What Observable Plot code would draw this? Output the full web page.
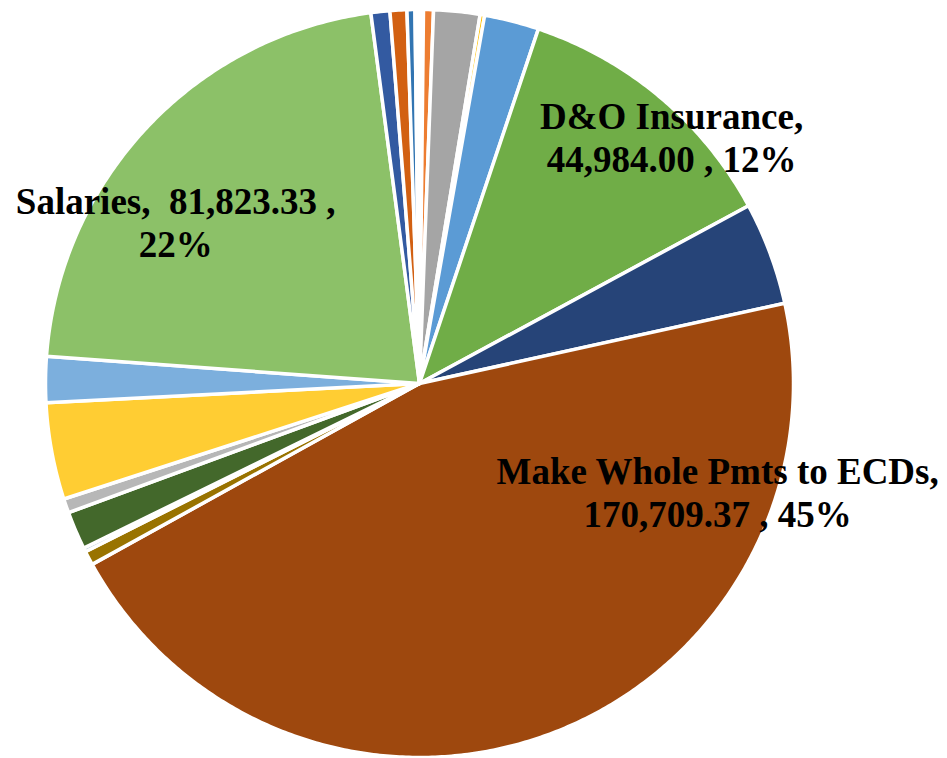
<!DOCTYPE html>
<html>
<head>
<meta charset="utf-8">
<script src="https://cdn.jsdelivr.net/npm/d3@7"></script>
<script src="https://cdn.jsdelivr.net/npm/@observablehq/plot@0.6"></script>
<style>
  html, body { margin: 0; padding: 0; background: #ffffff; }
  #chart svg { display: block; }
</style>
</head>
<body>
<div id="chart"></div>
<script>
// ---- data (clockwise from 12 o'clock) ----
const categories = [
  "Other A", "Other B", "Other C", "Other D", "Other E",
  "D&O Insurance", "Other F", "Make Whole Pmts to ECDs",
  "Other G", "Other H", "Other I", "Other J", "Other K", "Other L",
  "Salaries", "Other M", "Other N", "Other O", "Other P"
];
const values = [
  639, 1613, 7498, 733, 8880,
  44984.00, 16703, 170709.37,
  2304, 628, 6178, 2304, 15708, 7435,
  81823.33, 3068, 2733, 1288, 723
];
const colors = [
  "#ffffff", "#ED7D31", "#A5A5A5", "#FFC000", "#5B9BD5",
  "#70AD47", "#264478", "#9E480E",
  "#997300", "#255E91", "#43682B", "#B7B7B7", "#FFCD33", "#7CAFDD",
  "#8CC168", "#335AA1", "#D26012", "#3275B2", "#ffffff"
];
const labelled = ["D&O Insurance", "Make Whole Pmts to ECDs", "Salaries"];
const labelX = [0.674, 0.797, -0.652];
const labelY = [0.659, -0.290, 0.4316];

// ---- build slices ----
const data = categories.map((name, i) => ({name, value: values[i], color: colors[i]}));
const total = d3.sum(values);
const arcs = d3.pie().sort(null).value(d => d.value)(data);
const pts = [];
for (const a of arcs) {
  const n = Math.max(2, Math.ceil((a.endAngle - a.startAngle) / (Math.PI / 360)));
  pts.push({name: a.data.name, color: a.data.color, x: 0, y: 0});
  for (let k = 0; k <= n; k++) {
    const t = a.startAngle + (a.endAngle - a.startAngle) * k / n;
    pts.push({name: a.data.name, color: a.data.color, x: Math.sin(t), y: Math.cos(t)});
  }
  pts.push({name: a.data.name, color: a.data.color, x: 0, y: 0});
}

const fmt = d3.format(",.2f");
const labels = labelled.map((name, i) => {
  const v = values[categories.indexOf(name)];
  const pct = Math.round(v / total * 100);
  let text;
  if (name === "Salaries") text = `${name},\u00a0 ${fmt(v)} ,\n${pct}%`;
  else text = `${name},\n${fmt(v)} , ${pct}%`;
  return {x: labelX[i], y: labelY[i], text};
});

const W = 947, H = 758, cx = 419, cy = 383, R = 374;
const chart = Plot.plot({
  width: W,
  height: H,
  margin: 0,
  x: {domain: [-cx / R, (W - cx) / R], range: [0, W], axis: null},
  y: {domain: [-(H - cy) / R, cy / R], range: [H, 0], axis: null},
  color: {type: "identity"},
  style: {background: "#ffffff"},
  marks: [
    Plot.line(pts, {x: "x", y: "y", z: "name", fill: "color", stroke: "#ffffff", strokeWidth: 3.5}),
    Plot.text(labels, {
      x: "x", y: "y", text: "text",
      fontSize: 37, fontWeight: "bold",
      fontFamily: "'Liberation Serif', 'Times New Roman', serif",
      lineHeight: 1.16, fill: "#000000", textAnchor: "middle"
    })
  ]
});
document.getElementById("chart").appendChild(chart);
</script>
</body>
</html>
